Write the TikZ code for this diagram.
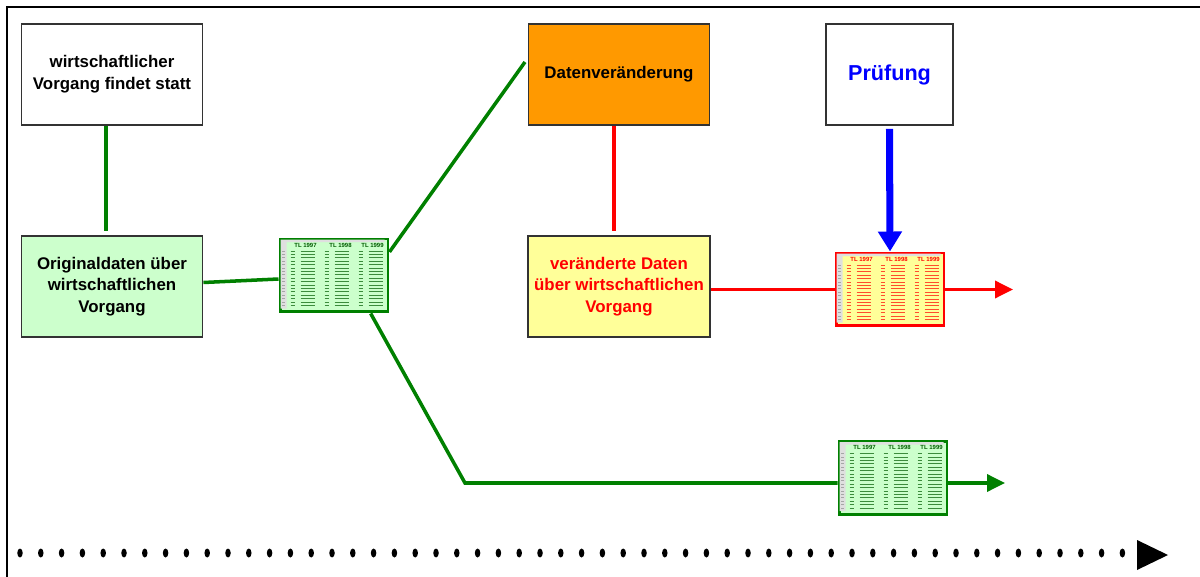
\documentclass[tikz,border=0pt]{standalone}
\usepackage{fontspec}
\setmainfont{Liberation Sans}
\usetikzlibrary{arrows.meta}

\definecolor{gruen}{RGB}{0,128,0}
\definecolor{hellgruen}{RGB}{204,255,204}
\definecolor{datenorange}{RGB}{255,153,0}
\definecolor{hellgelb}{RGB}{255,255,153}
\definecolor{rahmen}{RGB}{51,51,51}

% kleine Tabelle: Name, Mitte, Rahmenfarbe, Fuellung, Schriftfarbe
\newcommand{\tabelle}[5]{%
  \node[blatt={#3}{#4}] (#1) at (#2) {};
  \begin{scope}[shift={(#1.north west)}]
    \fill[gray!25] (2,2) rectangle (106,4.5) (2,2) rectangle (8,71);
    \foreach \jahr/\xpos in {1997/27, 1998/62, 1999/94}
      \node[font=\bfseries\fontsize{3.4}{4}\selectfont, text=#5, inner sep=0pt] at (\xpos,7.5) {TL \jahr};
    \foreach \zeile in {1,...,17} {
      \draw[gray!70, line width=0.25pt] (3.5,10+3.4*\zeile) -- ++(3,0);
      \foreach \xpos in {12,46,80}
        \draw[#5, line width=0.3pt, opacity=0.7] (\xpos,10+3.4*\zeile) -- ++(4,0) (\xpos+10,10+3.4*\zeile) -- ++(14,0);
    }
  \end{scope}}

\begin{document}
\begin{tikzpicture}[x=0.02cm, y=-0.02cm,
	kasten/.style={draw=rahmen, line width=1.1pt, minimum width=3.62cm, minimum height=2.02cm, align=center, font=\bfseries\fontsize{9.6}{12.4}\selectfont},
	gruenlinie/.style={draw=gruen, line width=2pt},
	rotlinie/.style={draw=red, line width=2pt},
	spitze/.style={-{Triangle[length=0.36cm, width=0.34cm]}},
	blatt/.style 2 args={draw=#1, fill=#2, line width=1.7pt, minimum width=2.16cm, minimum height=1.46cm, inner sep=0pt}]
	\useasboundingbox (0,0) rectangle (1200,577);
	\draw[line width=1.4pt] (7,577) -- (7,7) -- (1200,7);

	\node (ws) at (112, 74.5)	[kasten, fill = white]	{wirtschaftlicher\\Vorgang findet statt};
	\node (orig) at (112, 286.5)	[kasten, fill = hellgruen]	{Originaldaten über\\wirtschaftlichen\\Vorgang};
	\node (daten) at (619, 74.5)	[kasten, fill = datenorange]	{Datenveränderung};
	\node (verae) at (619, 286.5)	[kasten, fill = hellgelb, text = red]	{veränderte Daten\\über wirtschaftlichen\\Vorgang};
	\node (pruef) at (889.5, 74.5)	[kasten, fill = white, minimum width = 2.54cm, text = blue, font = \bfseries\fontsize{12.3}{14}\selectfont]	{Prüfung};

	\tabelle{sheet1}{334,275.5}{gruen}{hellgruen}{gruen!70!black}
	\tabelle{sheet2}{890,289.5}{red}{hellgelb}{red}
	\tabelle{sheet3}{893,478}{gruen}{hellgruen}{gruen!70!black}

	\coordinate (dvin) at (525, 62);
	\coordinate (knick) at (465, 483);
	\coordinate (ende2) at (1013, 289.5);
	\coordinate (ende3) at (1005, 483);

	\draw[gruenlinie] ([xshift=-0.12cm]ws.south) -- ([xshift=-0.12cm, yshift=0.08cm]orig.north);
	\draw[gruenlinie] ([yshift=0.08cm]orig.east) -- ([yshift=-0.07cm]sheet1.west);
	\draw[gruenlinie] (sheet1.23) -- (dvin);
	\draw[gruenlinie] (sheet1.-46) -- (knick) -- (knick -| sheet3.west);
	\draw[gruenlinie, spitze] (knick -| sheet3.east) -- (ende3);

	\draw[rotlinie] ([xshift=-0.1cm]daten.south) -- ([xshift=-0.1cm, yshift=0.08cm]verae.north);
	\draw[rotlinie] (sheet2.west -| verae.east) -- (sheet2.west);
	\draw[rotlinie, spitze] (sheet2.east) -- (ende2);

	\draw[blue, line width=4pt, -{Triangle[length=0.4cm, width=0.46cm]}] ([yshift=-0.06cm]pruef.south) -- (sheet2.north);

	% Zeitachse
	\foreach \i in {0,...,53}
		\fill (20+20.8*\i, 553) ellipse [x radius=0.055cm, y radius=0.09cm];
	\fill (1137,540) -- (1168,555) -- (1137,570) -- cycle;
\end{tikzpicture}
\end{document}
